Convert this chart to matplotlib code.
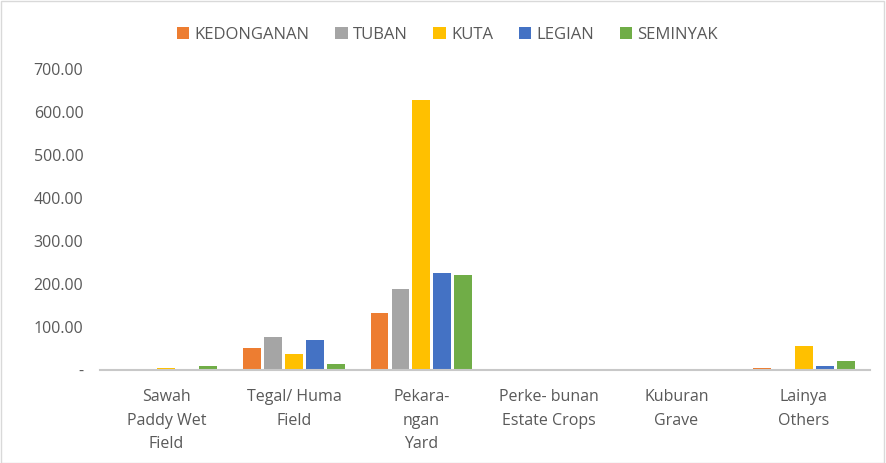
import numpy as np
import matplotlib
matplotlib.use('Agg')
import matplotlib.pyplot as plt
from matplotlib.patches import Rectangle

categories = ['Sawah\nPaddy Wet\nField', 'Tegal/ Huma\nField', 'Pekara-\nngan\nYard',
              'Perke- bunan\nEstate Crops', 'Kuburan\nGrave', 'Lainya\nOthers']
series = ['KEDONGANAN', 'TUBAN', 'KUTA', 'LEGIAN', 'SEMINYAK']
kedonganan = [0, 51, 132, 0, 0, 4]
tuban = [0, 77, 188, 0, 0, 0]
kuta = [4, 37, 628, 0, 0, 55]
legian = [0, 70, 225, 0, 0, 8]
seminyak = [9, 14, 221, 0, 0, 21]
colors = ['#ED7D31', '#A5A5A5', '#FFC000', '#4472C4', '#70AD47']

plt.rcParams['font.family'] = ['Open Sans', 'DejaVu Sans']

fig = plt.figure(figsize=(8.86, 4.63), dpi=100)
ax = fig.add_axes([0.113, 0.201, 0.869, 0.650])

x = np.arange(len(categories))
bar_w = 0.14
step = 0.164
values = [kedonganan, tuban, kuta, legian, seminyak]
for i, (name, vals) in enumerate(zip(series, values)):
    ax.bar(x + (i - 2) * step, vals, width=bar_w, color=colors[i], label=name)

ax.set_xlim(-0.52, len(categories) - 0.48)
ax.set_ylim(0, 700)
ax.set_yticks(np.arange(0, 701, 100))
ax.set_yticklabels(['-'] + ['%.2f' % v for v in range(100, 701, 100)],
                   color='#595959', fontsize=11.5)
ax.set_xticks(x)
ax.set_xticklabels(categories, color='#595959', fontsize=11.5, linespacing=1.6)
ax.tick_params(axis='x', length=0, pad=14)
ax.tick_params(axis='y', length=0, pad=12)
for s in ['top', 'right', 'left']:
    ax.spines[s].set_visible(False)
ax.spines['bottom'].set_color('#C8C8C8')
ax.spines['bottom'].set_linewidth(1.5)

leg = fig.legend(loc='upper center', bbox_to_anchor=(0.505, 0.975), ncol=5, frameon=False,
                 fontsize=12, handlelength=0.75, handleheight=0.75, columnspacing=1.55,
                 handletextpad=0.3)
for t in leg.get_texts():
    t.set_color('#595959')

fig.patches.append(Rectangle((0.001, 0.001), 0.997, 0.997, transform=fig.transFigure,
                             fill=False, edgecolor='#D9D9D9', linewidth=1))

fig.savefig('out.png', dpi=100)
